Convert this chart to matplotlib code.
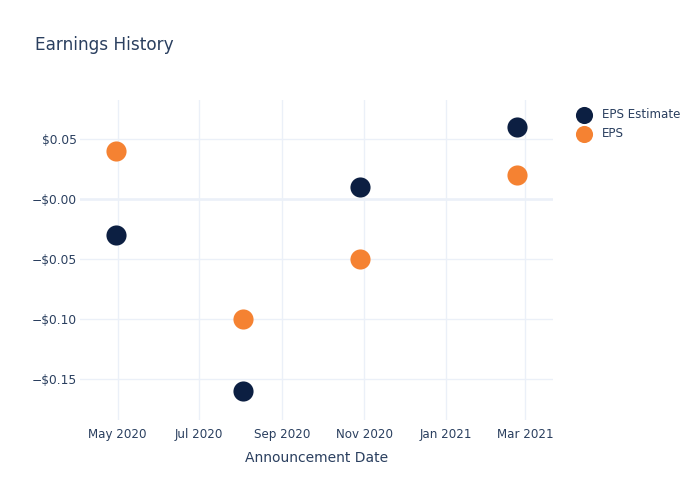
import matplotlib
matplotlib.use("Agg")
import matplotlib.pyplot as plt
import matplotlib.dates as mdates
import numpy as np
from datetime import datetime

dates = ["2020-04-30", "2020-08-03", "2020-10-29", "2021-02-23"]
eps_estimate = [-0.03, -0.16, 0.01, 0.06]
eps_actual = [0.04, -0.10, -0.05, 0.02]
y_ticks = [0.05, 0.0, -0.05, -0.10, -0.15]
x_ticks = ["2020-05-01", "2020-07-01", "2020-09-01", "2020-11-01", "2021-01-01", "2021-03-01"]

d = [datetime.strptime(s, "%Y-%m-%d") for s in dates]
xt = [datetime.strptime(s, "%Y-%m-%d") for s in x_ticks]

text_color = "#2a3f5f"
grid_color = "#EBF0F8"

fig = plt.figure(figsize=(7, 5), dpi=100)
ax = fig.add_axes([80/700, 80/500, (553-80)/700, (420-100)/500])

ax.scatter(d, eps_estimate, s=210, color="#0C1F42", label="EPS Estimate", zorder=3, linewidths=0)
ax.scatter(d, eps_actual, s=210, color="#F58232", label="EPS", zorder=3, linewidths=0)

ax.set_xlim(datetime(2020, 4, 3), datetime(2021, 3, 22))
ax.set_ylim(-0.184, 0.0825)

ax.set_xticks(xt)
ax.xaxis.set_major_formatter(mdates.DateFormatter("%b %Y"))
ax.set_yticks(y_ticks)

def fmt(v):
    s = "${:.2f}".format(abs(v))
    if v < 0 or abs(v) < 1e-12:
        s = "\u2212" + s
    return s

ax.set_yticklabels([fmt(v) for v in y_ticks])

ax.grid(True, color=grid_color, linewidth=1)
ax.axhline(0, color=grid_color, linewidth=1.8, zorder=1)
ax.set_axisbelow(True)
for sp in ax.spines.values():
    sp.set_visible(False)
ax.tick_params(axis="x", length=0, labelsize=8.6, colors=text_color, pad=6)
ax.tick_params(axis="y", length=0, labelsize=8.8, colors=text_color, pad=2)

ax.set_xlabel("Announcement Date", fontsize=10, color=text_color, labelpad=7)

fig.text(35/700, 1 - 45/500, "Earnings History", fontsize=12.2, color=text_color, va="center", ha="left")

leg = ax.legend(loc="upper left", bbox_to_anchor=(1.04, 0.975), frameon=False, fontsize=8.6,
                labelcolor=text_color, handletextpad=0.5, borderaxespad=0, labelspacing=0.5,
                markerscale=0.85, borderpad=0)

fig.savefig("out.png", dpi=100)
